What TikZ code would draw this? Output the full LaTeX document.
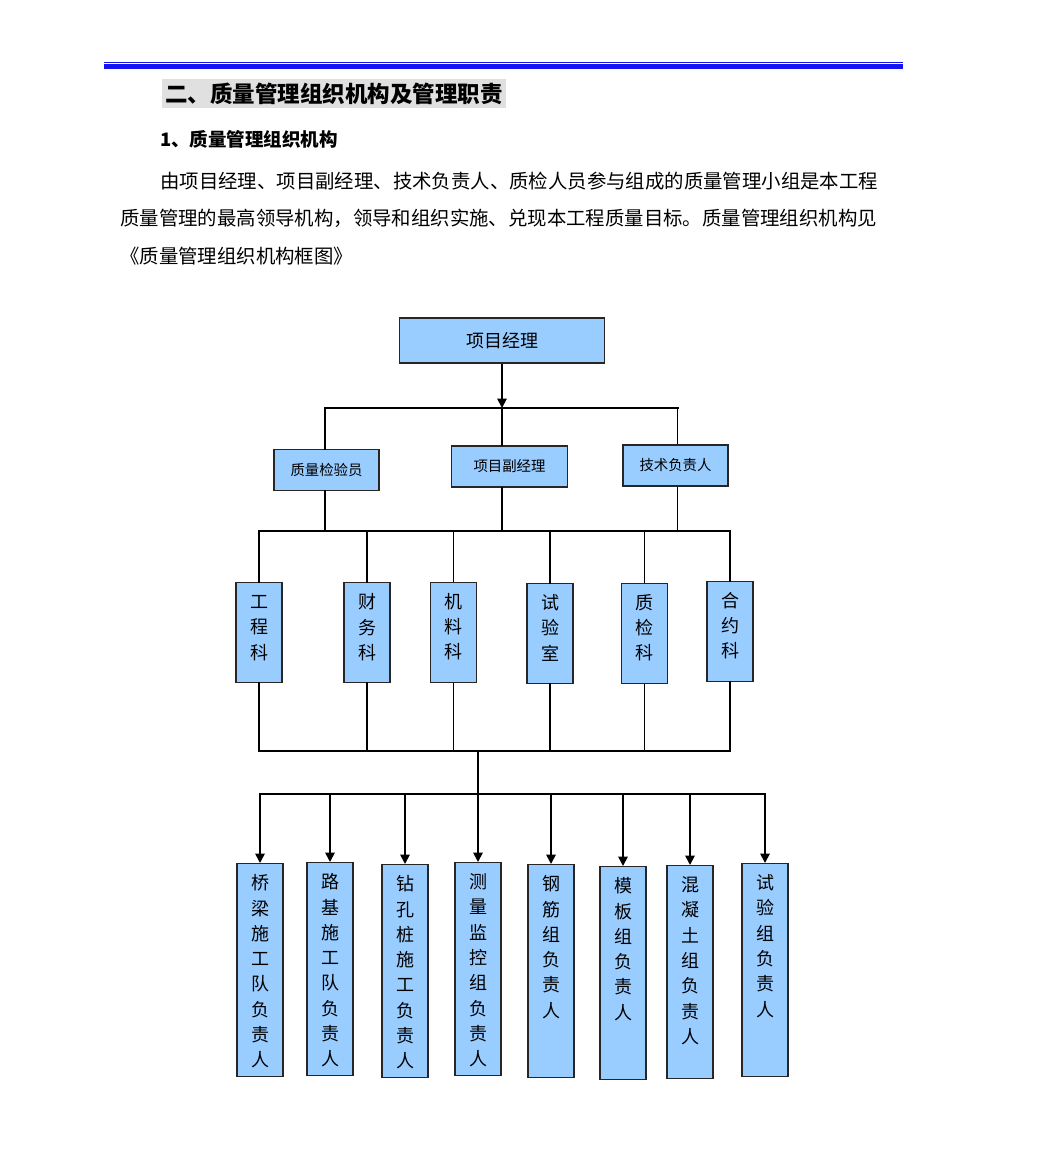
\documentclass[tikz,border=0pt]{standalone}
\usepackage{fontspec}
\setmainfont{Noto Sans CJK SC}
\usepackage{xcolor}
\usepackage{tikz}
\usetikzlibrary{arrows.meta,positioning}

\definecolor{boxblue}{RGB}{153,204,255}
\definecolor{ruleblue}{RGB}{20,20,240}
\definecolor{titlegray}{RGB}{224,224,224}

% vertical text column, top aligned
\newcommand{\vcol}[2]{\parbox[t][#1][t]{30pt}{\centering\fontsize{18}{25.3}\selectfont\rule{0pt}{15pt}#2}}

\begin{document}
\begin{tikzpicture}[x=1pt, y=-1pt, >={Triangle[length=9.5pt,width=9.5pt]},
    box/.style={rectangle, draw=black!85, line width=1.3pt, fill=boxblue, inner sep=0pt},
    head/.style={box, minimum width=205pt, minimum height=45pt, font=\fontsize{18}{18}\selectfont},
    staff/.style={box, minimum height=41pt, font=\fontsize{14.4}{14.4}\selectfont},
    dept/.style={box, anchor=north, minimum width=46pt, inner ysep=11pt},
    para/.style={anchor=west, inner sep=0pt, font=\fontsize{19.4}{19.4}\selectfont},
    link/.style={line width=2pt, line cap=rect},
    fine/.style={line width=1pt},
    feed/.style={->, line width=1.8pt}]
    \useasboundingbox (0,0) rectangle (1042,1150);

    % page header
    \draw [ruleblue, line width=1pt] (104,62.5) -- (903,62.5);
    \draw [ruleblue, line width=5pt] (104,66.5) -- (903,66.5);
    \node (title) [fill=titlegray, minimum width=344pt, minimum height=29pt, inner sep=0pt, font=\fontsize{22.5}{22.5}\selectfont\bfseries] at (334,93.5) {二、质量管理组织机构及管理职责};
    \node (sub) [anchor=west, inner sep=0pt, font=\fontsize{18.5}{18.5}\selectfont\bfseries] at (160,139) {1、质量管理组织机构};
    \node (p1) [para] at (160,181) {由项目经理、项目副经理、技术负责人、质检人员参与组成的质量管理小组是本工程};
    \node (p2) [para] at (120,218) {质量管理的最高领导机构，领导和组织实施、兑现本工程质量目标。质量管理组织机构见};
    \node (p3) [para] at (120,256) {《质量管理组织机构框图》};

    % management
    \node (pm) [head] at (502,340.5) {项目经理};
    \node (qc) [staff, minimum width=105pt] at (326.5,470) {质量检验员};
    \node (dpm) [staff, minimum width=116pt] at (509.5,466.5) {项目副经理};
    \node (tech) [staff, minimum width=105pt] at (675.5,465.5) {技术负责人};

    % departments
    \node (gck) [dept] at (259,582) {\vcol{78pt}{工\\程\\科}};
    \node (cwk) [dept] at (367,582) {\vcol{78pt}{财\\务\\科}};
    \node (jlk) [dept] at (453.5,581.5) {\vcol{78pt}{机\\料\\科}};
    \node (sys) [dept] at (550,583) {\vcol{78pt}{试\\验\\室}};
    \node (zjk) [dept] at (644.5,582.5) {\vcol{78pt}{质\\检\\科}};
    \node (hyk) [dept] at (730,580.5) {\vcol{78pt}{合\\约\\科}};

    % work groups
    \node (qlt) [dept] at (260,863) {\vcol{191pt}{桥\\梁\\施\\工\\队\\负\\责\\人}};
    \node (ljt) [dept] at (330,862) {\vcol{191pt}{路\\基\\施\\工\\队\\负\\责\\人}};
    \node (zkz) [dept] at (405,864) {\vcol{191pt}{钻\\孔\\桩\\施\\工\\负\\责\\人}};
    \node (clz) [dept] at (478,862) {\vcol{191pt}{测\\量\\监\\控\\组\\负\\责\\人}};
    \node (gjz) [dept] at (551,864) {\vcol{191pt}{钢\\筋\\组\\负\\责\\人}};
    \node (mbz) [dept] at (623,866) {\vcol{191pt}{模\\板\\组\\负\\责\\人}};
    \node (hntz) [dept] at (690,865) {\vcol{191pt}{混\\凝\\土\\组\\负\\责\\人}};
    \node (syz) [dept] at (765,863) {\vcol{191pt}{试\\验\\组\\负\\责\\人}};

    % bus lines
    \coordinate (tl) at (325,408);
    \coordinate (tr) at (677.5,408);
    \coordinate (ml) at (259,531);
    \coordinate (mr) at (730,531);
    \coordinate (bl) at (259,751);
    \coordinate (br) at (730,751);
    \coordinate (hub) at (478,751);
    \coordinate (fl) at (260,794);
    \coordinate (fr) at (765,794);

    \draw [feed] (pm.south) -- (pm.south |- tl);
    \draw [link] (tl) -- (tr);
    \draw [link] (tl) -- (tl |- qc.north);
    \draw [link] (pm.south |- tl) -- (pm.south |- dpm.north);
    \draw [fine] (tr) -- (tr |- tech.north);
    \draw [link] (tl |- qc.south) -- (tl |- ml);
    \draw [link] (pm.south |- dpm.south) -- (pm.south |- ml);
    \draw [fine] (tr |- tech.south) -- (tr |- ml);
    \draw [link] (ml) -- (mr);

    \foreach \d/\w in {gck/link, cwk/link, jlk/fine, sys/link, zjk/fine, hyk/link} {
        \draw [\w] (\d.north |- ml) -- (\d.north);
        \draw [\w] (\d.south) -- (\d.south |- bl);
    }
    \draw [link] (bl) -- (br);
    \draw [link] (hub) -- (hub |- fl);
    \draw [link] (fl) -- (fr);

    \foreach \c in {qlt, ljt, zkz, clz, gjz, mbz, hntz, syz}
        \draw [feed] (\c.north |- fl) -- (\c.north);
\end{tikzpicture}
\end{document}
